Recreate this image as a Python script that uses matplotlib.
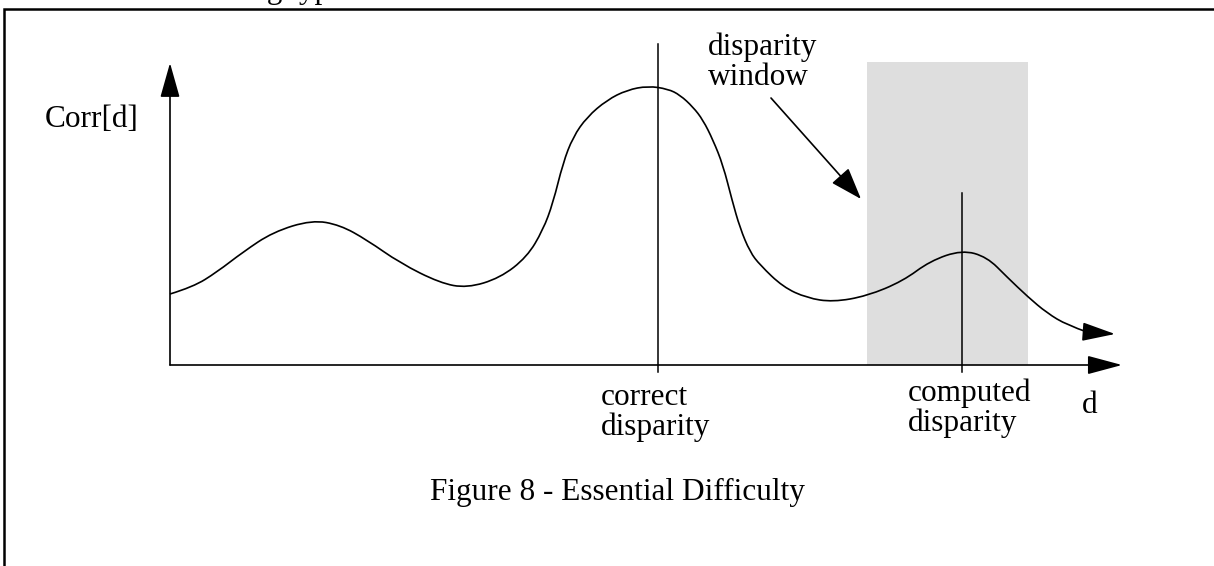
import numpy as np
import matplotlib
matplotlib.use('Agg')
import matplotlib.pyplot as plt
from matplotlib.patches import Rectangle, FancyArrowPatch, PathPatch
from matplotlib.path import Path

# curve Corr[d] (d, corr) in drawing units, origin at the axes corner
curve_d = [0, 23, 47, 73, 103, 142, 170, 197, 230, 270, 297, 330, 357, 373, 383, 393,
           403, 417, 437, 457, 478, 498, 510, 523, 533, 543, 553, 562, 570, 580, 590,
           613, 637, 663, 697, 733, 760, 792, 817, 837, 858, 877, 897, 917]
curve_c = [71, 78, 93, 113, 133, 145, 140, 125, 102, 82, 77, 87, 108, 135, 162, 202,
           228, 248, 265, 275, 279, 276, 270, 258, 245, 225, 200, 165, 137, 113, 100,
           78, 67, 63, 69, 84, 104, 115, 108, 88, 68, 52, 40, 33]
curve_tip = (945, 31)

correct_d = 488
computed_d = 792
window = (697, 858)      # disparity window on d
window_top = 303

labels_correct = ['correct', 'disparity']
labels_computed = ['computed', 'disparity']
labels_window = ['disparity', 'window']
caption = 'Figure 8 - Essential Difficulty'

plt.rcParams['font.family'] = ['Liberation Serif', 'DejaVu Serif']
FS = 22.5

fig = plt.figure(figsize=(12.14, 5.66), dpi=100)
ax = fig.add_axes([0, 0, 1, 1])
ax.set_xlim(-170, 1044)
ax.set_ylim(-201, 365)
ax.axis('off')

# page frame, only top and left edges fall inside the crop
ax.add_patch(Rectangle((-166, -260), 1300, 616, fill=False, ec='black', lw=1.8))
ax.text(81, 367, 'ng typ', fontsize=FS, ha='left', va='baseline')

# disparity window
ax.add_patch(Rectangle((window[0], 0), window[1] - window[0], window_top,
                       fc='#dedede', ec='none', zorder=0))


def arrow(p0, p1, hl=21.6, hw=6.1):
    ax.add_patch(FancyArrowPatch(p0, p1, arrowstyle=f'-|>,head_length={hl},head_width={hw}',
                                 mutation_scale=1, color='black', lw=1.2,
                                 shrinkA=0, shrinkB=0, zorder=3))


# axes
arrow((0, 0), (0, 302))
arrow((0, 0), (952, 0), hw=5.8)

# marker lines
ax.plot([correct_d, correct_d], [-7, 321], color='black', lw=1.1)
ax.plot([computed_d, computed_d], [-7, 172], color='black', lw=1.1)

# correlation curve: read points used as quadratic bezier controls so it comes out smooth
pts = list(zip(curve_d, curve_c))
verts = [pts[0]]
codes = [Path.MOVETO]
for i in range(1, len(pts) - 1):
    mid = ((pts[i][0] + pts[i + 1][0]) / 2, (pts[i][1] + pts[i + 1][1]) / 2)
    if i == len(pts) - 2:
        mid = pts[-1]
    verts += [pts[i], mid]
    codes += [Path.CURVE3, Path.CURVE3]
ax.add_patch(PathPatch(Path(verts, codes), fill=False, ec='black', lw=1.2))
arrow((curve_d[-1], curve_c[-1]), curve_tip, hl=20.5, hw=5.8)

# pointer to the window
arrow((601, 267), (691, 166), hl=20, hw=7)

ax.text(-125, 238, 'Corr[d]', fontsize=FS, ha='left', va='baseline')
for i, s in enumerate(labels_window):
    ax.text(538, 310 - 30 * i, s, fontsize=FS, ha='left', va='baseline')
for i, s in enumerate(labels_correct):
    ax.text(431, -40 - 30 * i, s, fontsize=FS, ha='left', va='baseline')
for i, s in enumerate(labels_computed):
    ax.text(738, -36 - 30 * i, s, fontsize=FS, ha='left', va='baseline')
ax.text(912, -48, 'd', fontsize=FS, ha='left', va='baseline')
ax.text(447, -135, caption, fontsize=FS, ha='center', va='baseline')

fig.savefig('out.png', dpi=100)
